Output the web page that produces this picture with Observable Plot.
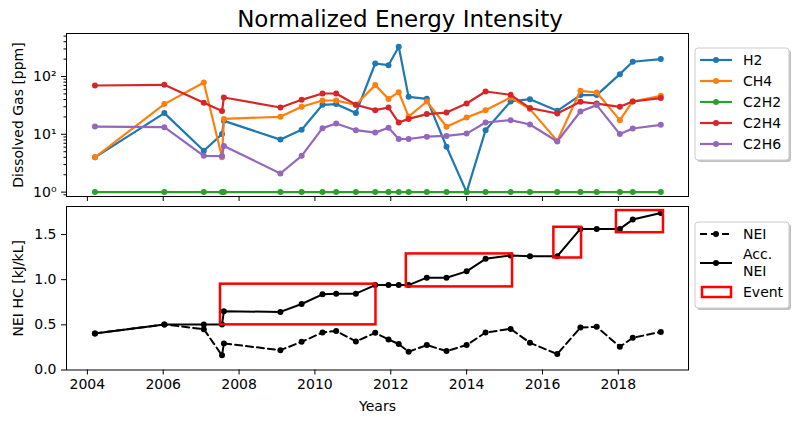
<!DOCTYPE html>
<html><head><meta charset="utf-8">
<script src="https://cdn.jsdelivr.net/npm/d3@7"></script>
<script src="https://cdn.jsdelivr.net/npm/@observablehq/plot@0.6"></script>
<style>
body{margin:0;background:#fff;font-family:"DejaVu Sans",sans-serif;}
#wrap{position:relative;width:800px;height:424px;overflow:hidden;background:#fff;}
#title{position:absolute;left:0;width:800px;top:5px;text-align:center;font-size:23px;line-height:28px;color:#000;}
#top{position:absolute;left:0;top:28px;}
#bottom{position:absolute;left:0;top:200px;}
#leg{position:absolute;left:0;top:0;}
</style></head>
<body><div id="wrap"><div id="top"></div><div id="bottom"></div><svg id="leg" width="800" height="424" style="pointer-events:none"></svg><div id="title">Normalized Energy Intensity</div></div>
<script>
// ---- data ----
const years = [2004.2, 2006.03, 2007.07, 2007.55, 2007.6, 2009.09, 2009.65, 2010.2, 2010.56, 2011.08, 2011.59, 2011.94, 2012.21, 2012.47, 2012.95, 2013.47, 2014.0, 2014.5, 2015.16, 2015.67, 2016.39, 2017.0, 2017.43, 2018.04, 2018.38, 2019.12];
const gasNames = ["H2", "CH4", "C2H2", "C2H4", "C2H6"];
const gasColors = ["#1f77b4", "#ff7f0e", "#2ca02c", "#d62728", "#9467bd"];
const H2   = [4.0, 23.3, 5.2, 10.1, 17.1, 8.1, 12.0, 32.4, 33.3, 23.3, 168, 157, 327, 44.5, 41.1, 6.1, 1.0, 11.8, 37, 40.6, 25.5, 47.7, 47.7, 110, 180, 200];
const CH4  = [4.0, 33.3, 78.7, 4.0, 18.5, 20.1, 30.0, 38.5, 38.5, 32.4, 71, 41, 53.7, 20.3, 37, 13.5, 19.5, 26.2, 43.4, 27.3, 7.7, 56.6, 52.9, 17.6, 37, 46.4];
const C2H2 = [1, 1, 1, 1, 1, 1, 1, 1, 1, 1, 1, 1, 1, 1, 1, 1, 1, 1, 1, 1, 1, 1, 1, 1, 1, 1];
const C2H4 = [69.9, 71.8, 35.1, 25.2, 43.4, 29.1, 39.5, 50.8, 50.8, 32.4, 26.2, 29.1, 16, 18.5, 22.4, 23.8, 34.1, 55, 48.2, 28.4, 22.9, 36.5, 34.0, 29.9, 37, 42.3];
const C2H6 = [13.6, 13.3, 4.25, 4.2, 6.3, 2.1, 4.25, 12.8, 15.4, 11.8, 10.7, 13, 8.3, 8.3, 9.1, 9.4, 10.3, 16, 17.6, 14.8, 7.5, 24.8, 32.0, 10.1, 12.6, 14.6];
const NEI    = [0.405, 0.504, 0.452, 0.162, 0.294, 0.22, 0.312, 0.415, 0.433, 0.316, 0.411, 0.338, 0.287, 0.202, 0.276, 0.209, 0.276, 0.415, 0.455, 0.301, 0.176, 0.47, 0.478, 0.257, 0.356, 0.422];
const AccNEI = [0.405, 0.504, 0.504, 0.504, 0.65, 0.643, 0.731, 0.838, 0.845, 0.845, 0.94, 0.94, 0.94, 0.94, 1.022, 1.022, 1.092, 1.231, 1.268, 1.26, 1.26, 1.562, 1.562, 1.562, 1.665, 1.738];
const eventStart = [2007.51, 2012.41, 2016.3, 2017.95];
const eventEnd   = [2011.61, 2015.21, 2017.03, 2019.19];
const eventLow   = [0.5, 0.92, 1.24, 1.52];
const eventHigh  = [0.95, 1.285, 1.58, 1.765];
const xTicks = [2004, 2006, 2008, 2010, 2012, 2014, 2016, 2018];
const logTicks = [1, 10, 100];
const logTickLabels = ["10\u2070", "10\u00b9", "10\u00b2"];
const neiTicks = [0, 0.5, 1.0, 1.5];
const bottomLegend = ["NEI", "Acc.", "NEI", "Event"];

const gasValues = [H2, CH4, C2H2, C2H4, C2H6];
const xDomain = [2003.45, 2019.85];
const style = {fontSize: "14px", fontFamily: "DejaVu Sans, sans-serif", color: "#000", background: "transparent", overflow: "visible"};

// ---- top panel ----
const minor = [];
for (const p of [0.1, 1, 10, 100]) for (let k = 2; k <= 9; k++) { const v = k * p; if (v >= 0.84 && v <= 555) minor.push(v); }
const topMarks = [
  Plot.axisX({ticks: xTicks, tickSize: 5, tickFormat: () => "", label: null}),
  Plot.axisY({ticks: minor, tickSize: 2.5, tickFormat: () => "", label: null}),
  Plot.axisY({ticks: logTicks, tickSize: 5, tickPadding: 5, tickFormat: d => logTickLabels[logTicks.indexOf(d)],
    label: "Dissolved Gas [ppm]", labelAnchor: "center", labelArrow: "none", labelOffset: 53})
];
gasNames.forEach((name, s) => {
  const rows = years.map((y, i) => ({year: y, value: gasValues[s][i]}));
  topMarks.push(Plot.line(rows, {x: "year", y: "value", stroke: gasColors[s], strokeWidth: 2.2}));
  topMarks.push(Plot.dot(rows, {x: "year", y: "value", fill: gasColors[s], r: 3}));
});
topMarks.push(Plot.frame({stroke: "#000", strokeWidth: 1}));
const topPlot = Plot.plot({
  width: 700, height: 172, marginLeft: 66, marginRight: 12, marginTop: 5, marginBottom: 4,
  style,
  x: {domain: xDomain},
  y: {type: "log", domain: [0.84, 555]},
  marks: topMarks
});
document.getElementById("top").appendChild(topPlot);

// ---- bottom panel ----
const neiRows = years.map((y, i) => ({year: y, v: NEI[i]}));
const accRows = years.map((y, i) => ({year: y, v: AccNEI[i]}));
const events = eventStart.map((s, i) => ({x1: s, x2: eventEnd[i], y1: eventLow[i], y2: eventHigh[i]}));
const bottomPlot = Plot.plot({
  width: 700, height: 224, marginLeft: 66, marginRight: 12, marginTop: 6, marginBottom: 54.5,
  style,
  x: {domain: xDomain},
  y: {domain: [0, 1.81]},
  marks: [
    Plot.axisX({ticks: xTicks, tickSize: 5, tickPadding: 4, tickFormat: d => String(d), label: "Years", labelAnchor: "center", labelArrow: "none", labelOffset: 41}),
    Plot.axisY({ticks: neiTicks, tickSize: 5, tickPadding: 5, tickFormat: d3.format(".1f"), label: "NEI HC [kJ/kL]", labelAnchor: "center", labelArrow: "none", labelOffset: 53}),
    Plot.line(neiRows, {x: "year", y: "v", stroke: "#000", strokeWidth: 2, strokeDasharray: "7,4"}),
    Plot.dot(neiRows, {x: "year", y: "v", fill: "#000", r: 3}),
    Plot.line(accRows, {x: "year", y: "v", stroke: "#000", strokeWidth: 2}),
    Plot.dot(accRows, {x: "year", y: "v", fill: "#000", r: 3}),
    Plot.rect(events, {x1: "x1", x2: "x2", y1: "y1", y2: "y2", stroke: "#ff0000", fill: "none", strokeWidth: 2.5}),
    Plot.frame({stroke: "#000", strokeWidth: 1})
  ]
});
document.getElementById("bottom").appendChild(bottomPlot);

// ---- legends ----
const leg = d3.select("#leg");
function box(x, y, w, h) {
  leg.append("rect").attr("x", x + 2).attr("y", y + 2).attr("width", w).attr("height", h).attr("rx", 3).attr("fill", "#999").attr("opacity", 0.6);
  leg.append("rect").attr("x", x).attr("y", y).attr("width", w).attr("height", h).attr("rx", 3).attr("fill", "#fff").attr("stroke", "#ccc");
}
box(695, 48, 94, 112);
gasNames.forEach((name, i) => {
  const cy = 60 + i * 21;
  leg.append("line").attr("x1", 700).attr("x2", 732).attr("y1", cy).attr("y2", cy).attr("stroke", gasColors[i]).attr("stroke-width", 2.2);
  leg.append("circle").attr("cx", 716).attr("cy", cy).attr("r", 3).attr("fill", gasColors[i]);
  leg.append("text").attr("x", 743).attr("y", cy).attr("dy", "0.35em").attr("font-size", 14).attr("font-family", "DejaVu Sans").text(name);
});
box(695, 222, 94, 86);
leg.append("line").attr("x1", 700).attr("x2", 732).attr("y1", 234).attr("y2", 234).attr("stroke", "#000").attr("stroke-width", 2).attr("stroke-dasharray", "7,4");
leg.append("circle").attr("cx", 716).attr("cy", 234).attr("r", 3).attr("fill", "#000");
leg.append("line").attr("x1", 700).attr("x2", 732).attr("y1", 263).attr("y2", 263).attr("stroke", "#000").attr("stroke-width", 2);
leg.append("circle").attr("cx", 716).attr("cy", 263).attr("r", 3).attr("fill", "#000");
leg.append("rect").attr("x", 702).attr("y", 287).attr("width", 29).attr("height", 10).attr("fill", "none").attr("stroke", "#ff0000").attr("stroke-width", 2.5);
[[234, 0], [254.5, 1], [271.5, 2], [292, 3]].forEach(([cy, i]) => {
  leg.append("text").attr("x", 743).attr("y", cy).attr("dy", "0.35em").attr("font-size", 14).attr("font-family", "DejaVu Sans").text(bottomLegend[i]);
});
</script></body></html>
